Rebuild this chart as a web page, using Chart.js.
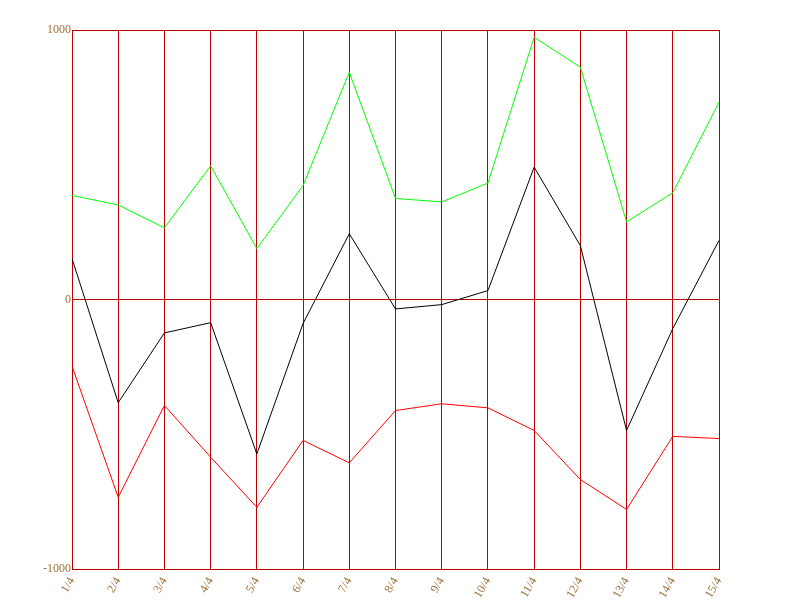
<!DOCTYPE html>
<html lang="en">
<head>
    <meta charset="UTF-8">
    <title>Chart</title>
    <script src="https://cdn.jsdelivr.net/npm/chart.js"></script>
    <style>
        html, body { margin: 0; padding: 0; background: #fff; }
        #wrap { width: 800px; height: 600px; }
    </style>
</head>
<body>
    <div id="wrap"><canvas id="chart" width="800" height="600"></canvas></div>

    <script>
        const labels = ['1/4', '2/4', '3/4', '4/4', '5/4', '6/4', '7/4', '8/4', '9/4', '10/4', '11/4', '12/4', '13/4', '14/4', '15/4'];
        const greenValues = [386, 351, 266, 496, 189, 423, 843, 375, 362, 432, 973, 862, 288, 396, 732];
        const blackValues = [152, -383, -124, -86, -573, -89, 244, -35, -19, 33, 491, 200, -486, -108, 219];
        const redValues = [-247, -734, -393, -585, -771, -523, -606, -412, -387, -402, -486, -668, -779, -508, -516];
        const yTicks = [-1000, 0, 1000];

        const gridColor = '#bb0000';
        const textColor = '#a0703c';
        const font = { family: '"Liberation Serif", "DejaVu Serif", serif', size: 12 };

        const ctx = document.getElementById('chart').getContext('2d');

        new Chart(ctx, {
            type: 'line',
            data: {
                labels,
                datasets: [
                    { data: greenValues, borderColor: '#00ff00', borderWidth: 1, pointRadius: 0, tension: 0, fill: false },
                    { data: blackValues, borderColor: '#000000', borderWidth: 1, pointRadius: 0, tension: 0, fill: false },
                    { data: redValues, borderColor: '#ff0000', borderWidth: 1, pointRadius: 0, tension: 0, fill: false }
                ]
            },
            options: {
                responsive: false,
                animation: false,
                layout: { padding: { left: 0, top: 30, right: 81, bottom: 0 } },
                plugins: { legend: { display: false }, tooltip: { enabled: false } },
                scales: {
                    x: {
                        grid: { color: gridColor, drawTicks: false },
                        border: { color: gridColor },
                        ticks: { color: textColor, font, minRotation: 60, maxRotation: 60, padding: 6, autoSkip: false },
                        afterFit: scale => { scale.height = 31; }
                    },
                    y: {
                        min: -1000,
                        max: 1000,
                        grid: { color: gridColor, drawTicks: false },
                        border: { color: gridColor },
                        ticks: { color: textColor, font, padding: 1, callback: v => String(v) },
                        afterBuildTicks: scale => { scale.ticks = yTicks.map(v => ({ value: v })); },
                        afterFit: scale => { scale.width = 72; }
                    }
                }
            }
        });
    </script>
</body>
</html>
